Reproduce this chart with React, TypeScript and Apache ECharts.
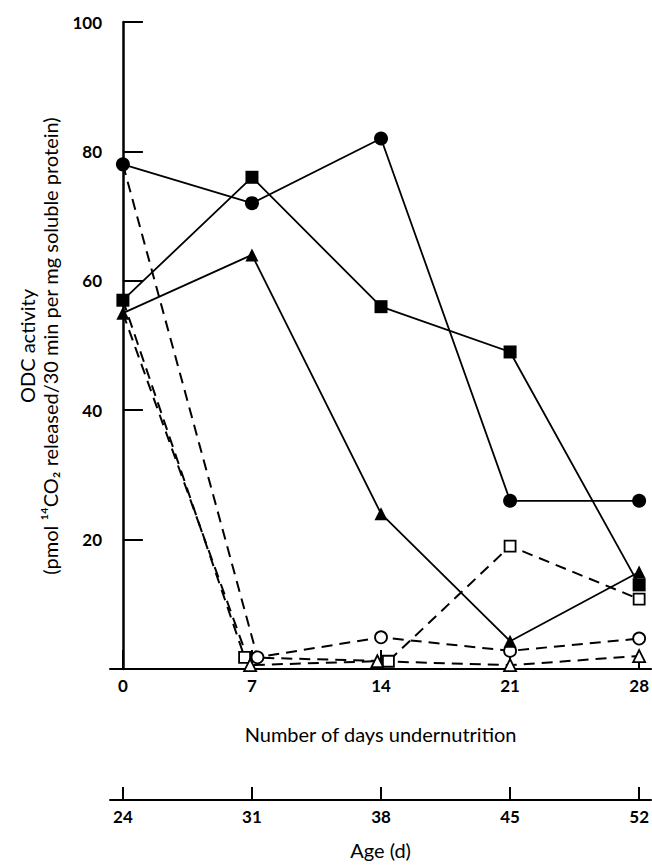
import React, { useEffect, useRef } from "react";
import * as echarts from "echarts";

const days = [0, 7, 14, 21, 28];
const ageTicks = [24, 31, 38, 45, 52];

const filledCircle = [78, 72, 82, 26, 26];
const filledSquare = [57, 76, 56, 49, 13];
const filledTriangle = [55, 64, 24, 4.3, 15];

const openCircleX = [0, 7.3, 14, 21, 28];
const openCircle = [78, 1.8, 4.9, 2.8, 4.7];
const openSquareX = [0, 6.6, 14.4, 21, 28];
const openSquare = [57, 1.8, 1.2, 19, 10.8];
const openTriangleX = [0, 6.9, 13.8, 21, 28];
const openTriangle = [55, 0.6, 1.2, 0.6, 2];

const FONT = "Lato";

function pairs(xs: number[], ys: number[], hideFirst = false) {
  return xs.map((x, i) =>
    hideFirst && i === 0 ? { value: [x, ys[i]], symbol: "none" } : { value: [x, ys[i]] }
  );
}

export default function App() {
  const ref = useRef<HTMLDivElement>(null);
  useEffect(() => {
    if (!ref.current) return;
    const chart = echarts.init(ref.current, undefined, { renderer: "svg" });
    const axisLabelStyle = { color: "#000", fontSize: 17, fontWeight: "bold" as const, fontFamily: FONT };
    const nameStyle = { color: "#000", fontSize: 20, fontFamily: FONT };
    const solid = (name: string, ys: number[], symbol: string, size: number) => ({
      name,
      type: "line",
      data: pairs(days, ys),
      symbol,
      symbolSize: size,
      itemStyle: { color: "#000" },
      lineStyle: { color: "#000", width: 1.8 },
      z: 5,
    });
    const dashed = (name: string, xs: number[], ys: number[], symbol: string, size: number) => ({
      name,
      type: "line",
      data: pairs(xs, ys, true),
      symbol,
      symbolSize: size,
      itemStyle: { color: "#fff", borderColor: "#000", borderWidth: 1.8 },
      lineStyle: { color: "#000", width: 2, type: [11, 7] },
      z: 3,
    });
    chart.setOption({
      animation: false,
      backgroundColor: "#fff",
      grid: { left: 110, right: 0, top: 22, bottom: 194 },
      xAxis: [
        {
          type: "value",
          min: -0.7,
          max: 28.65,
          axisLine: { lineStyle: { color: "#000", width: 2 } },
          axisTick: { customValues: days, inside: true, length: 19, lineStyle: { color: "#000", width: 2 } },
          axisLabel: { customValues: days, margin: 8, ...axisLabelStyle },
          splitLine: { show: false },
          name: "Number of days undernutrition",
          nameLocation: "middle",
          nameGap: 55,
          nameTextStyle: nameStyle,
        },
        {
          type: "value",
          position: "bottom",
          offset: 131,
          min: 23.3,
          max: 52.65,
          axisLine: { onZero: false, lineStyle: { color: "#000", width: 2 } },
          axisTick: { customValues: ageTicks, inside: true, length: 13, lineStyle: { color: "#000", width: 2 } },
          axisLabel: { customValues: ageTicks, margin: 8, ...axisLabelStyle },
          splitLine: { show: false },
          name: "Age (d)",
          nameLocation: "middle",
          nameGap: 40,
          nameTextStyle: nameStyle,
        },
      ],
      yAxis: {
        type: "value",
        min: 0,
        max: 100,
        interval: 20,
        axisLine: { show: true, lineStyle: { color: "#000", width: 2.5 } },
        axisTick: { show: true, inside: true, length: 20, lineStyle: { color: "#000", width: 2 } },
        axisLabel: { margin: 8, formatter: (v: number) => (v === 0 ? "" : String(v)), ...axisLabelStyle },
        splitLine: { show: false },
      },
      graphic: [
        {
          type: "text",
          x: 27,
          y: 346,
          rotation: Math.PI / 2,
          style: { text: "ODC activity", fontSize: 20, fontFamily: FONT, fill: "#000", align: "center", verticalAlign: "middle" },
        },
        {
          type: "text",
          x: 50,
          y: 346,
          rotation: Math.PI / 2,
          style: {
            text: "(pmol ¹⁴CO₂ released/30 min per mg soluble protein)",
            fontSize: 20,
            fontFamily: FONT,
            fill: "#000",
            align: "center",
            verticalAlign: "middle",
          },
        },
      ],
      series: [
        dashed("open circle", openCircleX, openCircle, "circle", 12),
        dashed("open square", openSquareX, openSquare, "rect", 11),
        dashed("open triangle", openTriangleX, openTriangle, "triangle", 12),
        solid("filled circle", filledCircle, "circle", 14),
        solid("filled square", filledSquare, "rect", 13),
        solid("filled triangle", filledTriangle, "triangle", 13),
      ],
    });
    return () => chart.dispose();
  }, []);
  return <div ref={ref} style={{ width: 652, height: 865, position: "absolute", left: 0, top: 0 }} />;
}
